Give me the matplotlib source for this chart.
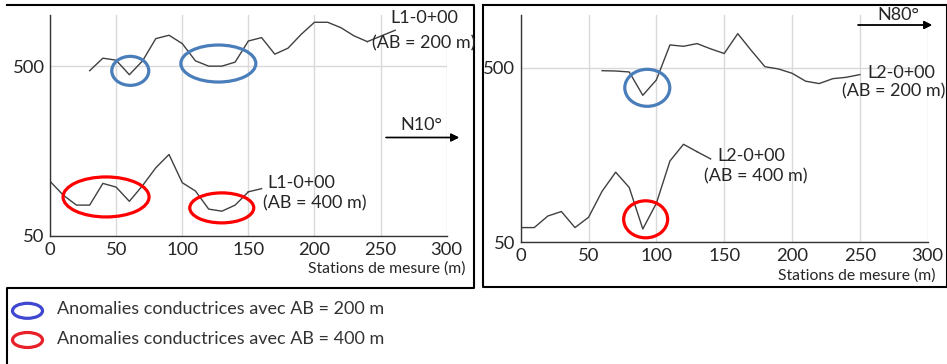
import matplotlib
matplotlib.use("Agg")
import matplotlib.pyplot as plt
from matplotlib.patches import Ellipse
from matplotlib.transforms import ScaledTranslation
from matplotlib.lines import Line2D

plt.rcParams['font.family'] = ['Lato', 'DejaVu Sans']

# ---------------- data ----------------
# Line L1 (N10°)
l1_ab200_x = [30, 40, 50, 60, 70, 80, 90, 100, 110, 120, 130, 140, 150, 160, 170, 180, 190, 200, 210, 220, 230, 240]
l1_ab200_y = [470, 557, 542, 445, 537, 726, 760, 679, 537, 500, 500, 528, 703, 736, 588, 638, 770, 906, 906, 842, 753, 697]
l1_ab400_x = [0, 10, 20, 30, 40, 50, 60, 70, 80, 90, 100, 110, 120, 130, 140, 150]
l1_ab400_y = [105, 87, 76, 76, 102, 97, 80, 99, 126, 151, 103, 92, 72, 70, 76, 91]
# Line L2 (N80°)
l2_ab200_x = [60, 70, 80, 90, 100, 110, 120, 130, 140, 150, 160, 170, 180, 190, 200, 210, 220, 230, 240, 250]
l2_ab200_y = [480, 478, 472, 347, 425, 674, 662, 686, 640, 602, 782, 626, 506, 491, 464, 418, 405, 432, 440, 456]
l2_ab400_x = [0, 10, 20, 30, 40, 50, 60, 70, 80, 90, 100, 110, 120, 130]
l2_ab400_y = [60.7, 60.7, 70.7, 75, 60.7, 69.5, 98, 126, 103, 59.6, 83.6, 146, 182, 165]

x_ticks = [0, 50, 100, 150, 200, 250, 300]
y_ticks = [50, 500]
x_label = "Stations de mesure (m)"

# anomalies: (station, resistivity, width px, height px)
l1_anom200 = [(60.7, 469, 37, 29), (127.3, 518, 75, 37)]
l1_anom400 = [(42.4, 84.9, 86, 40), (129.9, 73.2, 64, 30)]
l2_anom200 = [(93.3, 383, 45, 37)]
l2_anom400 = [(92.1, 67.7, 44, 37)]

W, H = 947, 364
fig = plt.figure(figsize=(W / 100, H / 100), dpi=100)

CURVE = '#404040'
BLUE = '#4A7EBB'
RED = '#FF0000'
GRID = '#D9D9D9'
TXT = '#262626'


def px_axes(x0, y0, x1, y1):
    return fig.add_axes([x0 / W, 1 - y1 / H, (x1 - x0) / W, (y1 - y0) / H])


def setup(ax):
    ax.set_yscale('log')
    ax.set_xlim(0, 300)
    ax.set_ylim(50, 1000)
    ax.set_xticks(x_ticks)
    ax.set_yticks(y_ticks)
    ax.set_yticklabels([str(v) for v in y_ticks])
    ax.minorticks_off()
    ax.tick_params(length=0, labelsize=13.3, colors=TXT, pad=4)
    for s in ['top', 'right']:
        ax.spines[s].set_visible(False)
    for s in ['left', 'bottom']:
        ax.spines[s].set_color('#333333')
        ax.spines[s].set_linewidth(1.0)
    ax.grid(True, color=GRID, linewidth=1.0)
    ax.set_axisbelow(True)
    ax.patch.set_alpha(0)


def ellipse(ax, cx, cy, w, h, color):
    tr = fig.dpi_scale_trans + ScaledTranslation(cx, cy, ax.transData)
    e = Ellipse((0, 0), w / 100, h / 100, transform=tr, fill=False,
                edgecolor=color, linewidth=2.3, clip_on=False, zorder=5)
    ax.add_artist(e)


# ---------------- left panel ----------------
ax1 = px_axes(50, 15, 446.7, 236)
setup(ax1)
ax1.plot(l1_ab200_x, l1_ab200_y, color=CURVE, lw=1.0)
ax1.plot(l1_ab400_x, l1_ab400_y, color=CURVE, lw=1.0)
ax1.plot([l1_ab200_x[-1], 261], [l1_ab200_y[-1], 813], color=CURVE, lw=1.0, clip_on=False)
ax1.plot([l1_ab400_x[-1], 160], [l1_ab400_y[-1], 95], color=CURVE, lw=1.0, clip_on=False)
for (cx, cy, w, h) in l1_anom200:
    ellipse(ax1, cx, cy, w, h, BLUE)
for (cx, cy, w, h) in l1_anom400:
    ellipse(ax1, cx, cy, w, h, RED)

# ---------------- right panel ----------------
ax2 = px_axes(520.7, 15, 927.7, 242.3)
setup(ax2)
ax2.plot(l2_ab200_x, l2_ab200_y, color=CURVE, lw=1.0)
ax2.plot(l2_ab400_x, l2_ab400_y, color=CURVE, lw=1.0)
ax2.plot([l2_ab400_x[-1], 140], [l2_ab400_y[-1], 150], color=CURVE, lw=1.0, clip_on=False)
for (cx, cy, w, h) in l2_anom200:
    ellipse(ax2, cx, cy, w, h, BLUE)
for (cx, cy, w, h) in l2_anom400:
    ellipse(ax2, cx, cy, w, h, RED)


def ftext(x, y, s, size=13, ha='left', va='center', color=TXT):
    fig.text(x / W, 1 - y / H, s, fontsize=size, ha=ha, va=va, color=color)


# curve labels
ftext(390.7, 18, "L1-0+00")
ftext(371.5, 43, "(AB = 200 m)")
ftext(267, 183, "L1-0+00")
ftext(263, 203, "(AB = 400 m)")
ftext(867, 73, "L2-0+00")
ftext(842, 91, "(AB = 200 m)")
ftext(717, 156, "L2-0+00")
ftext(704, 176, "(AB = 400 m)")

# x axis titles
ftext(465, 269, x_label, size=11.3, ha='right')
ftext(935, 276, x_label, size=11.3, ha='right')

# direction arrows
ftext(421, 125, "N10°", ha='center')
ftext(898, 15, "N80°", ha='center')
for (x0, x1, y) in [(386, 459, 137.5), (858, 932, 25)]:
    fig.add_artist(plt.annotate(
        '', xy=(x1 / W, 1 - y / H), xytext=(x0 / W, 1 - y / H),
        xycoords='figure fraction', textcoords='figure fraction',
        arrowprops=dict(arrowstyle='-|>', color='black', lw=1.0,
                        mutation_scale=12, shrinkA=0, shrinkB=0)))

# panel frames
def fline(xs, ys, lw=1.5):
    fig.add_artist(Line2D([x / W for x in xs], [1 - y / H for y in ys],
                          color='black', lw=lw))

fline([7, 474, 474, 7, 7], [4.5, 4.5, 288, 288, 364])
fline([483, 946.5, 946.5, 483, 483], [4.5, 4.5, 287, 287, 4.5])

# legend
for (cy, col, txt) in [(310.8, '#3F47D0', "Anomalies conductrices avec AB = 200 m"),
                       (340, '#E8202A', "Anomalies conductrices avec AB = 400 m")]:
    e = Ellipse((27.5 / W, 1 - cy / H), 30 / W, 15 / H, transform=fig.transFigure,
                fill=False, edgecolor=col, linewidth=2.3)
    fig.add_artist(e)
    ftext(57, cy - 1.5, txt, color='#333333')

fig.savefig("out.png", dpi=100)
